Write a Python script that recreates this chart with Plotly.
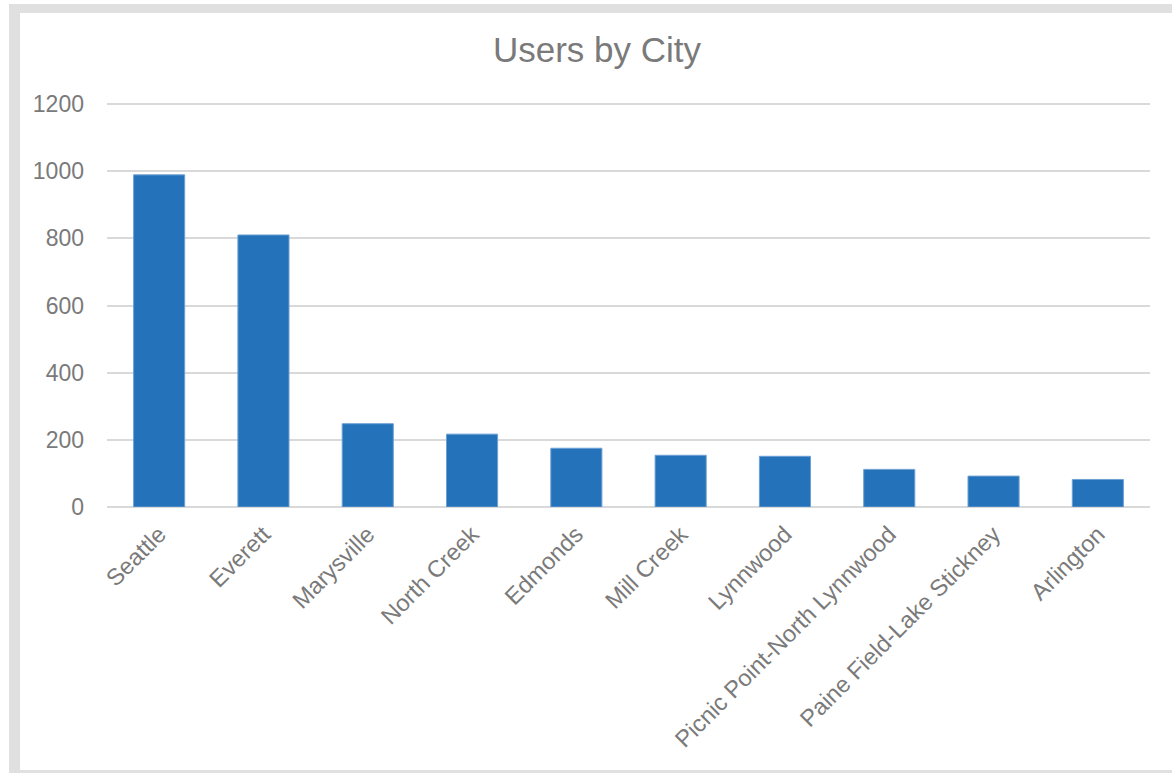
import plotly.graph_objects as go

cities = ["Seattle", "Everett", "Marysville", "North Creek", "Edmonds", "Mill Creek",
          "Lynnwood", "Picnic Point-North Lynnwood", "Paine Field-Lake Stickney", "Arlington"]
users = [989, 810, 248, 217, 175, 154, 151, 112, 92, 82]
y_ticks = [0, 200, 400, 600, 800, 1000, 1200]

W, H = 1172, 773
L, R, T, B = 107, 22, 103, 266
pw, ph = W - L - R, H - T - B

def px(x):
    return (x - L) / pw

def py(y):
    return (H - B - y) / ph

fig = go.Figure(go.Bar(
    x=cities, y=users,
    marker=dict(color="#2372BA", line=dict(color="#6FA0D3", width=1)),
    width=0.49,
))

fig.update_layout(
    width=W, height=H,
    margin=dict(l=L, r=R, t=T, b=B),
    paper_bgcolor="white", plot_bgcolor="white",
    font=dict(family="Liberation Sans, Arial, sans-serif", color="#7A7A7A", size=23),
    title=dict(text="Users by City", x=(597) / W, xanchor="center", y=1 - 50 / H, yanchor="middle",
               font=dict(size=35, color="#7A7A7A")),
    showlegend=False,
    shapes=[
        dict(type="rect", xref="paper", yref="paper", x0=px(9), x1=px(1180), y0=py(4), y1=py(780),
             fillcolor="#E0E0E0", line=dict(width=0), layer="below"),
        dict(type="rect", xref="paper", yref="paper", x0=px(20), x1=px(1180), y0=py(13), y1=py(770),
             fillcolor="white", line=dict(width=0), layer="below"),
    ],
)
fig.update_xaxes(tickangle=-45, showgrid=False, showline=False, ticks="", ticklabelstandoff=8,
                 tickfont=dict(size=23.5, color="#7A7A7A"))
fig.update_yaxes(range=[0, 1203], tickvals=y_ticks, showgrid=True, gridcolor="#D9D9D9", gridwidth=1.5,
                 zeroline=True, zerolinecolor="#D9D9D9", zerolinewidth=1.5,
                 showline=False, ticks="", ticklabelstandoff=22,
                 tickfont=dict(size=23, color="#7A7A7A"))

fig.write_html("out.html", config={"displayModeBar": False},
               post_script="document.body.style.margin='0';")
